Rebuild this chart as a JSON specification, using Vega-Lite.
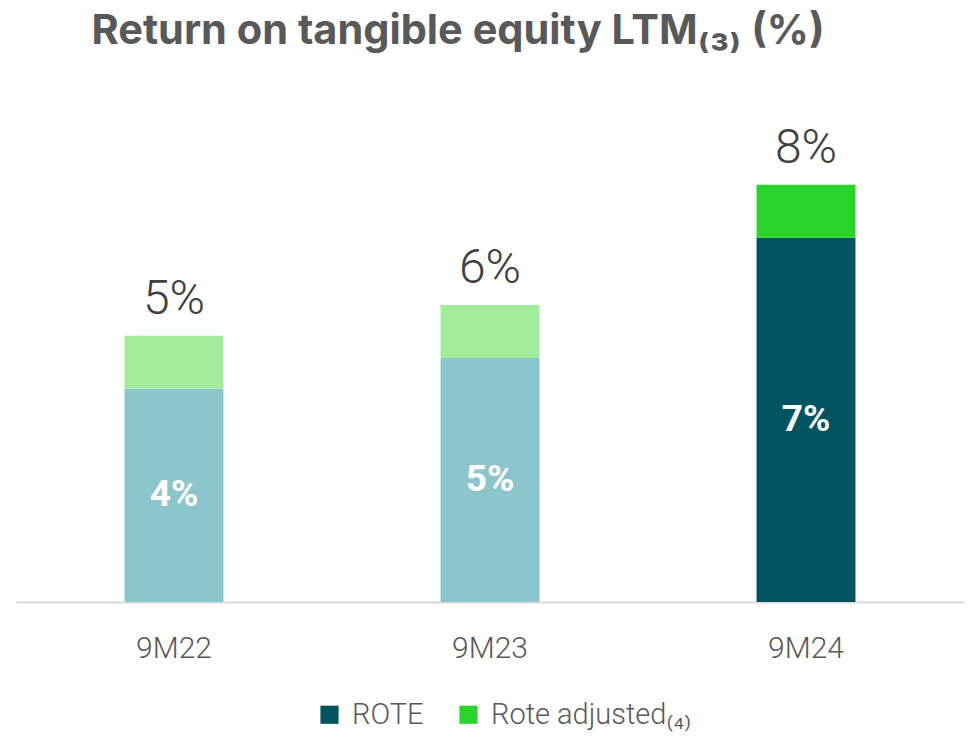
{
  "$schema": "https://vega.github.io/schema/vega-lite/v6.json",
  "width": 948,
  "height": 502,
  "autosize": {"type": "none"},
  "padding": {"left": 16, "top": 100, "right": 5, "bottom": 143},
  "background": "white",
  "config": {"view": {"stroke": null}},
  "title": {
    "text": "Return on tangible equity LTM₍₃₎ (%)",
    "font": "Inter",
    "fontSize": 41.5,
    "fontWeight": "bold",
    "color": "#595959",
    "anchor": "middle",
    "dx": -32,
    "offset": 48
  },
  "data": {
    "values": [
      {"period": "9M22", "series": "ROTE", "segment": "ROTE (earlier)", "value": 4.1, "label": "4%"},
      {"period": "9M22", "series": "Rote adjusted", "segment": "Rote adjusted (earlier)", "value": 1.02, "label": "5%"},
      {"period": "9M23", "series": "ROTE", "segment": "ROTE (earlier)", "value": 4.69, "label": "5%"},
      {"period": "9M23", "series": "Rote adjusted", "segment": "Rote adjusted (earlier)", "value": 1.02, "label": "6%"},
      {"period": "9M24", "series": "ROTE", "segment": "ROTE", "value": 7.0, "label": "7%"},
      {"period": "9M24", "series": "Rote adjusted", "segment": "Rote adjusted", "value": 1.02, "label": "8%"}
    ]
  },
  "transform": [
    {"joinaggregate": [{"op": "sum", "field": "value", "as": "total"}], "groupby": ["period"]}
  ],
  "encoding": {
    "x": {
      "field": "period",
      "type": "nominal",
      "sort": null,
      "scale": {"paddingInner": 0.687, "paddingOuter": 0.3435},
      "axis": {
        "title": null,
        "labelAngle": 0,
        "ticks": false,
        "domainColor": "#d9d9d9",
        "domainWidth": 2,
        "labelFont": "Roboto",
        "labelFontWeight": 300,
        "labelFontSize": 30,
        "labelColor": "#595959",
        "labelPadding": 31
      }
    }
  },
  "layer": [
    {
      "mark": {"type": "bar"},
      "encoding": {
        "y": {
          "field": "value",
          "type": "quantitative",
          "stack": "zero",
          "scale": {"domain": [0, 9.65], "nice": false},
          "axis": null
        },
        "color": {
          "field": "segment",
          "type": "nominal",
          "scale": {
            "domain": ["ROTE", "Rote adjusted", "ROTE (earlier)", "Rote adjusted (earlier)"],
            "range": ["#00535f", "#2bd42a", "#8cc6cd", "#a3ec9c"]
          },
          "legend": {
            "title": null,
            "values": ["ROTE", "Rote adjusted"],
            "orient": "none",
            "legendX": 299,
            "legendY": 600,
            "direction": "horizontal",
            "symbolType": "square",
            "symbolSize": 330,
            "symbolStrokeWidth": 0,
            "labelFont": "Roboto",
            "labelFontWeight": 300,
            "labelFontSize": 29,
            "labelColor": "#595959",
            "labelOffset": 8,
            "labelLimit": 0,
            "labelExpr": "datum.label == 'Rote adjusted' ? 'Rote adjusted₍₄₎' : datum.label",
            "columnPadding": 30
          }
        },
        "order": {"field": "series", "sort": "ascending"}
      }
    },
    {
      "transform": [
        {"filter": "datum.series == 'ROTE'"},
        {"calculate": "datum.value / 2", "as": "mid"}
      ],
      "mark": {"type": "text", "font": "Roboto", "fontWeight": "bold", "fontSize": 37, "color": "white", "baseline": "middle"},
      "encoding": {
        "y": {"field": "mid", "type": "quantitative"},
        "text": {"field": "label"}
      }
    },
    {
      "transform": [
        {"filter": "datum.series == 'Rote adjusted'"}
      ],
      "mark": {"type": "text", "font": "Roboto", "fontWeight": 300, "fontSize": 48, "color": "#404040", "baseline": "alphabetic", "dy": -22},
      "encoding": {
        "y": {"field": "total", "type": "quantitative"},
        "text": {"field": "label"}
      }
    }
  ]
}
